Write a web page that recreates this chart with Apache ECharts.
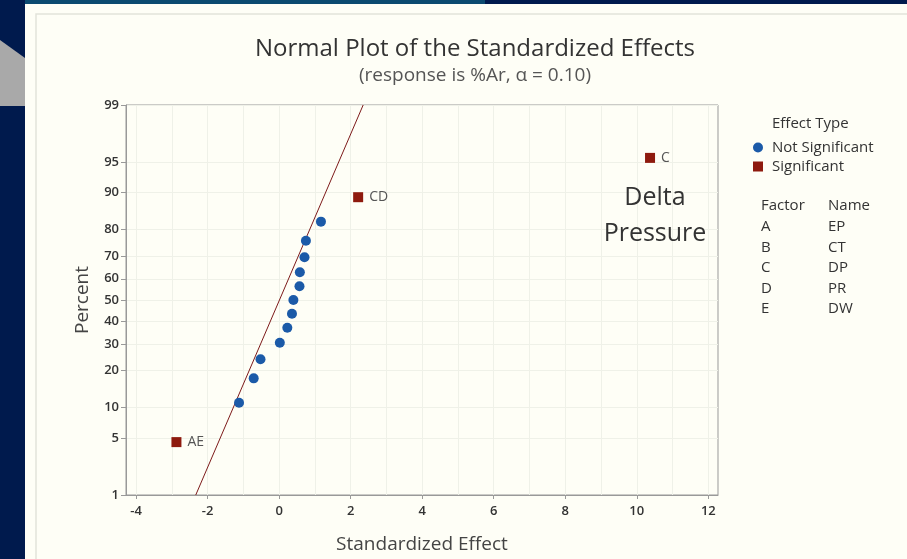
<!DOCTYPE html>
<html>
<head>
<meta charset="utf-8">
<script src="https://cdn.jsdelivr.net/npm/echarts@6/dist/echarts.min.js"></script>
<style>
  html, body { margin: 0; padding: 0; background: #001a4d; }
  #chart { width: 907px; height: 559px; }
</style>
</head>
<body>
<div id="chart"></div>
<script>
// effects that are not significant (blue dots)
const nsEffect = [-1.12, -0.71, -0.52, 0.02, 0.23, 0.36, 0.40, 0.57, 0.58, 0.71, 0.75, 1.17];
const nsPercent = [11.0, 17.5, 24.0, 30.5, 37.0, 43.5, 50.0, 56.5, 63.0, 69.5, 76.0, 82.5];
// significant effects (red squares)
const sigNames = ['AE', 'CD', 'C'];
const sigEffect = [-2.87, 2.21, 10.37];
const sigPercent = [4.5, 89.0, 95.5];
// fitted reference line ends
const lineEffect = [-2.33, 2.35];
const linePercent = [1, 99];
// axis ticks
const percentTicks = [1, 5, 10, 20, 30, 40, 50, 60, 70, 80, 90, 95, 99];
const effectTicks = [-4, -2, 0, 2, 4, 6, 8, 10, 12];
const effectGrid = [-4, -3, -2, -1, 0, 1, 2, 3, 4, 5, 6, 7, 8, 9, 10, 11, 12];
// factor table
const factors = ['A', 'B', 'C', 'D', 'E'];
const factorNames = ['EP', 'CT', 'DP', 'PR', 'DW'];

const FONT = '"Open Sans", "Noto Sans", sans-serif';

// inverse normal cdf (Acklam) -> probit scale for the percent axis
function probit(p) {
  const a = [-39.69683028665376, 220.9460984245205, -275.9285104469687, 138.3577518672690, -30.66479806614716, 2.506628277459239];
  const b = [-54.47609879822406, 161.5858368580409, -155.6989798598866, 66.80131188771972, -13.28068155288572];
  const c = [-0.007784894002430293, -0.3223964580411365, -2.400758277161838, -2.549732539343734, 4.374664141464968, 2.938163982698783];
  const d = [0.007784695709041462, 0.3224671290700398, 2.445134137142996, 3.754408661907416];
  const pl = 0.02425;
  let q, r;
  if (p < pl) {
    q = Math.sqrt(-2 * Math.log(p));
    return (((((c[0] * q + c[1]) * q + c[2]) * q + c[3]) * q + c[4]) * q + c[5]) /
      ((((d[0] * q + d[1]) * q + d[2]) * q + d[3]) * q + 1);
  }
  if (p > 1 - pl) {
    q = Math.sqrt(-2 * Math.log(1 - p));
    return -(((((c[0] * q + c[1]) * q + c[2]) * q + c[3]) * q + c[4]) * q + c[5]) /
      ((((d[0] * q + d[1]) * q + d[2]) * q + d[3]) * q + 1);
  }
  q = p - 0.5; r = q * q;
  return (((((a[0] * r + a[1]) * r + a[2]) * r + a[3]) * r + a[4]) * r + a[5]) * q /
    (((((b[0] * r + b[1]) * r + b[2]) * r + b[3]) * r + b[4]) * r + 1);
}
const z = pct => probit(pct / 100);
const zTicks = percentTicks.map(z);

function pctLabel(v) {
  let best = 0;
  zTicks.forEach((t, i) => { if (Math.abs(t - v) < Math.abs(zTicks[best] - v)) best = i; });
  return String(percentTicks[best]);
}

const chart = echarts.init(document.getElementById('chart'));

const bg = [
  { type: 'rect', z: -10, shape: { x: 25, y: 0, width: 460, height: 4 }, style: { fill: '#0b4a70' } },
  { type: 'polygon', z: -10, shape: { points: [[0, 40], [25, 58], [25, 106], [0, 106]] }, style: { fill: '#a9a9a9' } },
  { type: 'rect', z: -10, shape: { x: 25, y: 4, width: 882, height: 555 }, style: { fill: '#fefef6' } },
  { type: 'rect', z: -9, shape: { x: 36, y: 14, width: 900, height: 600 }, style: { fill: 'none', stroke: '#e2e3da', lineWidth: 1.5 } }
];

const txt = (text, x, y, size, extra) => ({
  type: 'text', z: 50,
  style: Object.assign({ text: text, x: x, y: y, font: size + 'px ' + FONT, fill: '#333', textVerticalAlign: 'middle' }, extra || {})
});

const texts = [
  txt('Delta\nPressure', 655, 216, 25, { textAlign: 'center', lineHeight: 36 }),
  txt('Effect Type', 772, 124, 15),
  txt('Factor', 761, 206, 15),
  txt('Name', 828, 206, 15)
];
factors.forEach((f, i) => {
  const y = 227 + i * 20.5;
  texts.push(txt(f, 761, y, 15));
  texts.push(txt(factorNames[i], 828, y, 15));
});

const option = {
  backgroundColor: '#001a4d',
  animation: false,
  textStyle: { fontFamily: FONT },
  title: {
    text: 'Normal Plot of the Standardized Effects',
    subtext: '(response is %Ar, \u03b1 = 0.10)',
    left: 470,
    top: 32,
    textAlign: 'center',
    itemGap: 5,
    textStyle: { fontSize: 24, fontWeight: 'normal', color: '#333', fontFamily: FONT },
    subtextStyle: { fontSize: 19, color: '#555', fontFamily: FONT }
  },
  legend: {
    data: ['Not Significant', 'Significant'],
    orient: 'vertical',
    left: 748,
    top: 135,
    itemWidth: 10,
    itemHeight: 10,
    itemGap: 4,
    textStyle: { fontSize: 15, color: '#333', fontFamily: FONT, padding: [0, 0, 0, 4] }
  },
  grid: {
    left: 126, right: 189, top: 105, bottom: 64,
    show: true,
    borderColor: '#999',
    borderWidth: 1,
    backgroundColor: 'transparent'
  },
  xAxis: [
    {
      type: 'value',
      min: -4.28,
      max: 12.27,
      name: 'Standardized Effect',
      nameLocation: 'middle',
      nameGap: 40,
      nameTextStyle: { fontSize: 19, color: '#444', fontFamily: FONT },
      axisLine: { show: true, onZero: false, lineStyle: { color: '#999' } },
      axisTick: { show: true, length: 4, customValues: effectTicks, lineStyle: { color: '#999' } },
      axisLabel: { customValues: effectTicks, margin: 10, fontSize: 13, fontWeight: 600, color: '#333', formatter: v => String(Math.round(v)) },
      splitLine: { show: false }
    },
    {
      type: 'value',
      min: -4.28,
      max: 12.27,
      position: 'top',
      axisLine: { show: false },
      axisTick: { show: false, customValues: effectGrid },
      axisLabel: { show: false, customValues: effectGrid },
      splitLine: { show: true, lineStyle: { color: '#eff1e8', width: 1 } }
    }
  ],
  yAxis: {
    type: 'value',
    min: z(1),
    max: z(99),
    name: 'Percent',
    nameLocation: 'middle',
    nameRotate: 90,
    nameGap: 34,
    nameTextStyle: { fontSize: 19, color: '#444', fontFamily: FONT },
    axisLine: { show: true, onZero: false, lineStyle: { color: '#999' } },
    axisTick: { show: true, length: 5, customValues: zTicks, lineStyle: { color: '#999' } },
    axisLabel: { customValues: zTicks, margin: 7, fontSize: 13, fontWeight: 600, color: '#333', formatter: v => pctLabel(v) },
    splitLine: { show: true, lineStyle: { color: '#eff1e8', width: 1 } }
  },
  graphic: bg.concat(texts),
  series: [
    {
      name: 'fit',
      type: 'line',
      xAxisIndex: 0,
      data: lineEffect.map((x, i) => [x, z(linePercent[i])]),
      symbol: 'none',
      silent: true,
      lineStyle: { color: '#7d1a1a', width: 1 },
      z: 2
    },
    {
      name: 'Not Significant',
      type: 'scatter',
      xAxisIndex: 0,
      symbol: 'circle',
      symbolSize: 10,
      itemStyle: { color: '#1b5aa8', opacity: 1 },
      data: nsEffect.map((x, i) => [x, z(nsPercent[i])]),
      z: 3
    },
    {
      name: 'Significant',
      type: 'scatter',
      xAxisIndex: 0,
      symbol: 'rect',
      symbolSize: 10,
      itemStyle: { color: '#8e1a0e', opacity: 1 },
      data: sigEffect.map((x, i) => ({ name: sigNames[i], value: [x, z(sigPercent[i])] })),
      label: {
        show: true,
        position: 'right',
        distance: 6,
        formatter: p => p.name,
        fontSize: 14,
        color: '#555',
        fontFamily: FONT
      },
      z: 3
    }
  ]
};

chart.setOption(option);
</script>
</body>
</html>
